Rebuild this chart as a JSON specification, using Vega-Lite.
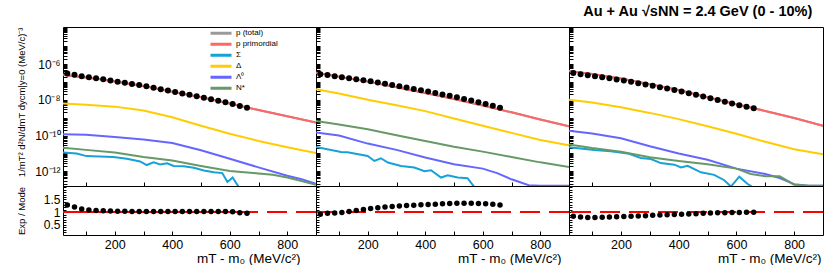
{
"$schema": "https://vega.github.io/schema/vega-lite/v6.json",
"padding": {"left": 15, "top": 4, "right": 0, "bottom": 0},
"background": "white",
"title": {"text": "Au + Au √sNN = 2.4 GeV (0 - 10%)", "anchor": "end", "fontSize": 14.5, "fontWeight": "bold", "font": "Liberation Sans", "color": "black", "offset": 2, "dx": -12},
"config": {
  "view": {"stroke": "black", "strokeWidth": 1},
  "font": "Liberation Sans",
  "axis": {"labelFont": "Liberation Sans", "titleFont": "Liberation Sans", "labelColor": "black", "titleColor": "black", "tickColor": "black", "titleFontWeight": "normal", "grid": false, "domain": false}
},
"datasets": {
"curves": [
{"p":"L","s":"p (total)","x":20,"y":2.51e-7},{"p":"L","s":"p (total)","x":50,"y":2.19e-7},{"p":"L","s":"p (total)","x":100,"y":1.78e-7},{"p":"L","s":"p (total)","x":150,"y":1.41e-7},{"p":"L","s":"p (total)","x":200,"y":1.07e-7},{"p":"L","s":"p (total)","x":300,"y":6.03e-8},{"p":"L","s":"p (total)","x":400,"y":2.88e-8},{"p":"L","s":"p (total)","x":500,"y":1.38e-8},{"p":"L","s":"p (total)","x":600,"y":6.31e-9},{"p":"L","s":"p (total)","x":700,"y":2.69e-9},{"p":"L","s":"p (total)","x":800,"y":1.20e-9},{"p":"L","s":"p (total)","x":900,"y":5.37e-10},
{"p":"L","s":"Σ","x":20,"y":1.12e-11},{"p":"L","s":"Σ","x":67,"y":1.0e-11},{"p":"L","s":"Σ","x":102,"y":7.08e-12},{"p":"L","s":"Σ","x":148,"y":6.76e-12},{"p":"L","s":"Σ","x":195,"y":6.31e-12},{"p":"L","s":"Σ","x":242,"y":5.01e-12},{"p":"L","s":"Σ","x":288,"y":3.55e-12},{"p":"L","s":"Σ","x":311,"y":2.24e-12},{"p":"L","s":"Σ","x":335,"y":3.16e-12},{"p":"L","s":"Σ","x":358,"y":2.40e-12},{"p":"L","s":"Σ","x":382,"y":2.82e-12},{"p":"L","s":"Σ","x":405,"y":2.0e-12},{"p":"L","s":"Σ","x":440,"y":1.91e-12},{"p":"L","s":"Σ","x":475,"y":1.58e-12},{"p":"L","s":"Σ","x":510,"y":1.12e-12},{"p":"L","s":"Σ","x":545,"y":8.91e-13},{"p":"L","s":"Σ","x":574,"y":7.94e-13},{"p":"L","s":"Σ","x":592,"y":2.51e-13},{"p":"L","s":"Σ","x":610,"y":4.47e-13},{"p":"L","s":"Σ","x":633,"y":1.2e-13},
{"p":"L","s":"Δ","x":20,"y":6.31e-9},{"p":"L","s":"Δ","x":100,"y":5.37e-9},{"p":"L","s":"Δ","x":200,"y":4.17e-9},{"p":"L","s":"Δ","x":300,"y":2.51e-9},{"p":"L","s":"Δ","x":400,"y":1.05e-9},{"p":"L","s":"Δ","x":500,"y":3.55e-10},{"p":"L","s":"Δ","x":600,"y":1.26e-10},{"p":"L","s":"Δ","x":700,"y":5.01e-11},{"p":"L","s":"Δ","x":800,"y":2.24e-11},{"p":"L","s":"Δ","x":900,"y":1.05e-11},
{"p":"L","s":"Λ⁰","x":20,"y":1.17e-10},{"p":"L","s":"Λ⁰","x":100,"y":1.10e-10},{"p":"L","s":"Λ⁰","x":200,"y":8.32e-11},{"p":"L","s":"Λ⁰","x":300,"y":6.03e-11},{"p":"L","s":"Λ⁰","x":400,"y":3.80e-11},{"p":"L","s":"Λ⁰","x":500,"y":1.51e-11},{"p":"L","s":"Λ⁰","x":600,"y":5.01e-12},{"p":"L","s":"Λ⁰","x":700,"y":1.66e-12},{"p":"L","s":"Λ⁰","x":800,"y":5.62e-13},{"p":"L","s":"Λ⁰","x":850,"y":3.55e-13},{"p":"L","s":"Λ⁰","x":900,"y":2.0e-13},
{"p":"L","s":"N*","x":20,"y":2.09e-11},{"p":"L","s":"N*","x":100,"y":1.58e-11},{"p":"L","s":"N*","x":200,"y":1.12e-11},{"p":"L","s":"N*","x":300,"y":6.31e-12},{"p":"L","s":"N*","x":400,"y":3.98e-12},{"p":"L","s":"N*","x":500,"y":2.0e-12},{"p":"L","s":"N*","x":600,"y":1.05e-12},{"p":"L","s":"N*","x":700,"y":7.59e-13},{"p":"L","s":"N*","x":750,"y":6.31e-13},{"p":"L","s":"N*","x":800,"y":4.47e-13},{"p":"L","s":"N*","x":850,"y":2.82e-13},{"p":"L","s":"N*","x":900,"y":1.78e-13},
{"p":"L","s":"p primordial","x":20,"y":2.51e-7},{"p":"L","s":"p primordial","x":50,"y":2.19e-7},{"p":"L","s":"p primordial","x":100,"y":1.78e-7},{"p":"L","s":"p primordial","x":150,"y":1.41e-7},{"p":"L","s":"p primordial","x":200,"y":1.07e-7},{"p":"L","s":"p primordial","x":300,"y":6.03e-8},{"p":"L","s":"p primordial","x":400,"y":2.88e-8},{"p":"L","s":"p primordial","x":500,"y":1.38e-8},{"p":"L","s":"p primordial","x":600,"y":6.31e-9},{"p":"L","s":"p primordial","x":700,"y":2.69e-9},{"p":"L","s":"p primordial","x":800,"y":1.20e-9},{"p":"L","s":"p primordial","x":900,"y":5.37e-10},

{"p":"M","s":"p (total)","x":20,"y":3.31e-7},{"p":"M","s":"p (total)","x":100,"y":2.0e-7},{"p":"M","s":"p (total)","x":200,"y":1.05e-7},{"p":"M","s":"p (total)","x":300,"y":5.01e-8},{"p":"M","s":"p (total)","x":400,"y":2.40e-8},{"p":"M","s":"p (total)","x":500,"y":1.12e-8},{"p":"M","s":"p (total)","x":600,"y":4.79e-9},{"p":"M","s":"p (total)","x":700,"y":2.0e-9},{"p":"M","s":"p (total)","x":800,"y":7.94e-10},{"p":"M","s":"p (total)","x":900,"y":3.31e-10},
{"p":"M","s":"Σ","x":20,"y":2.29e-11},{"p":"M","s":"Σ","x":107,"y":1.20e-11},{"p":"M","s":"Σ","x":130,"y":1.17e-11},{"p":"M","s":"Σ","x":153,"y":1.0e-11},{"p":"M","s":"Σ","x":200,"y":7.24e-12},{"p":"M","s":"Σ","x":223,"y":3.80e-12},{"p":"M","s":"Σ","x":246,"y":5.37e-12},{"p":"M","s":"Σ","x":270,"y":3.09e-12},{"p":"M","s":"Σ","x":316,"y":2.0e-12},{"p":"M","s":"Σ","x":362,"y":1.62e-12},{"p":"M","s":"Σ","x":397,"y":1.0e-12},{"p":"M","s":"Σ","x":420,"y":1.15e-12},{"p":"M","s":"Σ","x":455,"y":4.47e-13},{"p":"M","s":"Σ","x":478,"y":6.03e-13},{"p":"M","s":"Σ","x":513,"y":4.47e-13},{"p":"M","s":"Σ","x":547,"y":4.07e-13},{"p":"M","s":"Σ","x":571,"y":1.3e-13},
{"p":"M","s":"Δ","x":20,"y":3.89e-8},{"p":"M","s":"Δ","x":100,"y":2.24e-8},{"p":"M","s":"Δ","x":200,"y":1.0e-8},{"p":"M","s":"Δ","x":300,"y":5.01e-9},{"p":"M","s":"Δ","x":400,"y":2.34e-9},{"p":"M","s":"Δ","x":500,"y":9.12e-10},{"p":"M","s":"Δ","x":600,"y":3.55e-10},{"p":"M","s":"Δ","x":700,"y":1.41e-10},{"p":"M","s":"Δ","x":800,"y":5.62e-11},{"p":"M","s":"Δ","x":900,"y":2.82e-11},
{"p":"M","s":"Λ⁰","x":20,"y":1.48e-10},{"p":"M","s":"Λ⁰","x":100,"y":1.0e-10},{"p":"M","s":"Λ⁰","x":200,"y":3.55e-11},{"p":"M","s":"Λ⁰","x":300,"y":1.58e-11},{"p":"M","s":"Λ⁰","x":400,"y":5.89e-12},{"p":"M","s":"Λ⁰","x":500,"y":2.51e-12},{"p":"M","s":"Λ⁰","x":600,"y":1.41e-12},{"p":"M","s":"Λ⁰","x":650,"y":7.94e-13},{"p":"M","s":"Λ⁰","x":700,"y":3.55e-13},{"p":"M","s":"Λ⁰","x":760,"y":1.66e-13},{"p":"M","s":"Λ⁰","x":800,"y":1.55e-13},{"p":"M","s":"Λ⁰","x":900,"y":1.55e-13},
{"p":"M","s":"N*","x":20,"y":6.61e-10},{"p":"M","s":"N*","x":100,"y":4.17e-10},{"p":"M","s":"N*","x":200,"y":2.24e-10},{"p":"M","s":"N*","x":300,"y":1.05e-10},{"p":"M","s":"N*","x":400,"y":5.01e-11},{"p":"M","s":"N*","x":500,"y":2.34e-11},{"p":"M","s":"N*","x":600,"y":1.26e-11},{"p":"M","s":"N*","x":700,"y":6.31e-12},{"p":"M","s":"N*","x":800,"y":3.16e-12},{"p":"M","s":"N*","x":900,"y":1.74e-12},
{"p":"M","s":"p primordial","x":20,"y":3.31e-7},{"p":"M","s":"p primordial","x":100,"y":2.0e-7},{"p":"M","s":"p primordial","x":200,"y":1.05e-7},{"p":"M","s":"p primordial","x":300,"y":5.01e-8},{"p":"M","s":"p primordial","x":400,"y":2.40e-8},{"p":"M","s":"p primordial","x":500,"y":1.12e-8},{"p":"M","s":"p primordial","x":600,"y":4.79e-9},{"p":"M","s":"p primordial","x":700,"y":2.0e-9},{"p":"M","s":"p primordial","x":800,"y":7.94e-10},{"p":"M","s":"p primordial","x":900,"y":3.31e-10},

{"p":"R","s":"p (total)","x":20,"y":4.17e-7},{"p":"R","s":"p (total)","x":100,"y":2.82e-7},{"p":"R","s":"p (total)","x":200,"y":1.58e-7},{"p":"R","s":"p (total)","x":300,"y":7.59e-8},{"p":"R","s":"p (total)","x":400,"y":3.55e-8},{"p":"R","s":"p (total)","x":500,"y":1.41e-8},{"p":"R","s":"p (total)","x":600,"y":5.62e-9},{"p":"R","s":"p (total)","x":700,"y":2.40e-9},{"p":"R","s":"p (total)","x":800,"y":9.55e-10},{"p":"R","s":"p (total)","x":900,"y":3.55e-10},
{"p":"R","s":"Σ","x":20,"y":2.19e-11},{"p":"R","s":"Σ","x":108,"y":1.55e-11},{"p":"R","s":"Σ","x":165,"y":1.32e-11},{"p":"R","s":"Σ","x":223,"y":1.0e-11},{"p":"R","s":"Σ","x":269,"y":5.50e-12},{"p":"R","s":"Σ","x":304,"y":4.90e-12},{"p":"R","s":"Σ","x":338,"y":2.88e-12},{"p":"R","s":"Σ","x":385,"y":2.34e-12},{"p":"R","s":"Σ","x":408,"y":1.66e-12},{"p":"R","s":"Σ","x":431,"y":2.04e-12},{"p":"R","s":"Σ","x":477,"y":8.71e-13},{"p":"R","s":"Σ","x":523,"y":6.31e-13},{"p":"R","s":"Σ","x":558,"y":3.16e-13},{"p":"R","s":"Σ","x":581,"y":1.4e-13},{"p":"R","s":"Σ","x":610,"y":5.01e-13},{"p":"R","s":"Σ","x":638,"y":2.0e-13},{"p":"R","s":"Σ","x":656,"y":1.3e-13},
{"p":"R","s":"Δ","x":20,"y":1.0e-8},{"p":"R","s":"Δ","x":100,"y":7.08e-9},{"p":"R","s":"Δ","x":200,"y":3.80e-9},{"p":"R","s":"Δ","x":300,"y":1.86e-9},{"p":"R","s":"Δ","x":400,"y":8.32e-10},{"p":"R","s":"Δ","x":500,"y":3.31e-10},{"p":"R","s":"Δ","x":600,"y":1.26e-10},{"p":"R","s":"Δ","x":700,"y":4.47e-11},{"p":"R","s":"Δ","x":800,"y":1.70e-11},{"p":"R","s":"Δ","x":900,"y":8.91e-12},
{"p":"R","s":"Λ⁰","x":20,"y":1.86e-10},{"p":"R","s":"Λ⁰","x":100,"y":1.32e-10},{"p":"R","s":"Λ⁰","x":200,"y":7.08e-11},{"p":"R","s":"Λ⁰","x":300,"y":2.51e-11},{"p":"R","s":"Λ⁰","x":400,"y":1.0e-11},{"p":"R","s":"Λ⁰","x":500,"y":4.47e-12},{"p":"R","s":"Λ⁰","x":600,"y":1.41e-12},{"p":"R","s":"Λ⁰","x":700,"y":7.08e-13},{"p":"R","s":"Λ⁰","x":750,"y":4.17e-13},{"p":"R","s":"Λ⁰","x":800,"y":1.91e-13},{"p":"R","s":"Λ⁰","x":850,"y":1.55e-13},{"p":"R","s":"Λ⁰","x":900,"y":1.55e-13},
{"p":"R","s":"N*","x":20,"y":3.16e-11},{"p":"R","s":"N*","x":100,"y":2.0e-11},{"p":"R","s":"N*","x":200,"y":1.26e-11},{"p":"R","s":"N*","x":300,"y":6.03e-12},{"p":"R","s":"N*","x":400,"y":3.80e-12},{"p":"R","s":"N*","x":500,"y":2.51e-12},{"p":"R","s":"N*","x":600,"y":1.41e-12},{"p":"R","s":"N*","x":650,"y":7.08e-13},{"p":"R","s":"N*","x":700,"y":5.25e-13},{"p":"R","s":"N*","x":750,"y":5.25e-13},{"p":"R","s":"N*","x":800,"y":1.78e-13},{"p":"R","s":"N*","x":850,"y":1.55e-13},{"p":"R","s":"N*","x":900,"y":1.55e-13},
{"p":"R","s":"p primordial","x":20,"y":4.17e-7},{"p":"R","s":"p primordial","x":100,"y":2.82e-7},{"p":"R","s":"p primordial","x":200,"y":1.58e-7},{"p":"R","s":"p primordial","x":300,"y":7.59e-8},{"p":"R","s":"p primordial","x":400,"y":3.55e-8},{"p":"R","s":"p primordial","x":500,"y":1.41e-8},{"p":"R","s":"p primordial","x":600,"y":5.62e-9},{"p":"R","s":"p primordial","x":700,"y":2.40e-9},{"p":"R","s":"p primordial","x":800,"y":9.55e-10},{"p":"R","s":"p primordial","x":900,"y":3.55e-10}
],
"dots": [
{"p":"L","x":35,"v":3.00e-7,"r":1.28},{"p":"L","x":60,"v":2.51e-7,"r":1.2},{"p":"L","x":85,"v":2.13e-7,"r":1.12},{"p":"L","x":110,"v":1.83e-7,"r":1.08},{"p":"L","x":135,"v":1.60e-7,"r":1.06},{"p":"L","x":160,"v":1.42e-7,"r":1.05},{"p":"L","x":185,"v":1.22e-7,"r":1.04},{"p":"L","x":210,"v":1.04e-7,"r":1.03},{"p":"L","x":235,"v":8.97e-8,"r":1.03},{"p":"L","x":260,"v":7.74e-8,"r":1.02},{"p":"L","x":285,"v":6.75e-8,"r":1.02},{"p":"L","x":310,"v":5.74e-8,"r":1.02},{"p":"L","x":335,"v":4.78e-8,"r":1.02},{"p":"L","x":360,"v":3.97e-8,"r":1.02},{"p":"L","x":385,"v":3.30e-8,"r":1.02},{"p":"L","x":410,"v":2.75e-8,"r":1.02},{"p":"L","x":435,"v":2.29e-8,"r":1.02},{"p":"L","x":460,"v":1.90e-8,"r":1.02},{"p":"L","x":485,"v":1.58e-8,"r":1.02},{"p":"L","x":510,"v":1.32e-8,"r":1.02},{"p":"L","x":535,"v":1.07e-8,"r":1.02},{"p":"L","x":560,"v":8.89e-9,"r":1.02},{"p":"L","x":585,"v":7.23e-9,"r":1.02},{"p":"L","x":610,"v":5.81e-9,"r":1.01},{"p":"L","x":635,"v":4.54e-9,"r":0.97},{"p":"L","x":660,"v":3.61e-9,"r":0.95},
{"p":"M","x":35,"v":2.74e-7,"r":0.91},{"p":"M","x":60,"v":2.44e-7,"r":0.95},{"p":"M","x":85,"v":2.10e-7,"r":0.96},{"p":"M","x":110,"v":1.83e-7,"r":0.98},{"p":"M","x":135,"v":1.63e-7,"r":1.02},{"p":"M","x":160,"v":1.44e-7,"r":1.06},{"p":"M","x":185,"v":1.27e-7,"r":1.1},{"p":"M","x":210,"v":1.11e-7,"r":1.14},{"p":"M","x":235,"v":9.46e-8,"r":1.17},{"p":"M","x":260,"v":8.07e-8,"r":1.2},{"p":"M","x":285,"v":6.82e-8,"r":1.22},{"p":"M","x":310,"v":5.77e-8,"r":1.24},{"p":"M","x":335,"v":4.88e-8,"r":1.26},{"p":"M","x":360,"v":4.09e-8,"r":1.27},{"p":"M","x":385,"v":3.46e-8,"r":1.29},{"p":"M","x":410,"v":2.89e-8,"r":1.3},{"p":"M","x":435,"v":2.40e-8,"r":1.31},{"p":"M","x":460,"v":2.02e-8,"r":1.33},{"p":"M","x":485,"v":1.69e-8,"r":1.34},{"p":"M","x":510,"v":1.39e-8,"r":1.35},{"p":"M","x":535,"v":1.12e-8,"r":1.35},{"p":"M","x":560,"v":9.08e-9,"r":1.35},{"p":"M","x":585,"v":7.29e-9,"r":1.34},{"p":"M","x":610,"v":5.83e-9,"r":1.33},{"p":"M","x":635,"v":4.61e-9,"r":1.31},{"p":"M","x":660,"v":3.62e-9,"r":1.28},
{"p":"R","x":35,"v":3.21e-7,"r":0.83},{"p":"R","x":60,"v":2.74e-7,"r":0.80},{"p":"R","x":85,"v":2.37e-7,"r":0.78},{"p":"R","x":110,"v":2.07e-7,"r":0.78},{"p":"R","x":135,"v":1.82e-7,"r":0.79},{"p":"R","x":160,"v":1.60e-7,"r":0.80},{"p":"R","x":185,"v":1.40e-7,"r":0.81},{"p":"R","x":210,"v":1.21e-7,"r":0.82},{"p":"R","x":235,"v":1.02e-7,"r":0.83},{"p":"R","x":260,"v":8.55e-8,"r":0.84},{"p":"R","x":285,"v":7.19e-8,"r":0.85},{"p":"R","x":310,"v":6.12e-8,"r":0.87},{"p":"R","x":335,"v":5.11e-8,"r":0.88},{"p":"R","x":360,"v":4.28e-8,"r":0.89},{"p":"R","x":385,"v":3.58e-8,"r":0.9},{"p":"R","x":410,"v":2.94e-8,"r":0.91},{"p":"R","x":435,"v":2.37e-8,"r":0.92},{"p":"R","x":460,"v":1.90e-8,"r":0.93},{"p":"R","x":485,"v":1.54e-8,"r":0.95},{"p":"R","x":510,"v":1.24e-8,"r":0.96},{"p":"R","x":535,"v":9.93e-9,"r":0.97},{"p":"R","x":560,"v":7.89e-9,"r":0.97},{"p":"R","x":585,"v":6.32e-9,"r":0.98},{"p":"R","x":610,"v":5.06e-9,"r":0.98},{"p":"R","x":635,"v":4.13e-9,"r":0.99},{"p":"R","x":660,"v":3.34e-9,"r":0.99}
]
},
"columns": 3,
"spacing": 0,
"bounds": "flush",
"align": "each",
"resolve": {"scale": {"x": "independent", "y": "independent", "color": "independent"}},
"concat": [
{
"width": 253, "height": 159,
"layer": [
{"data": {"name": "curves"}, "transform": [{"filter": "datum.p == 'L'"}],
 "mark": {"type": "line", "strokeWidth": 2, "clip": true},
 "encoding": {
  "x": {"field": "x", "type": "quantitative", "scale": {"domain": [20, 900], "nice": false, "zero": false},
        "axis": {"labels": false, "title": null, "values": [100,200,300,400,500,600,700,800], "tickSize": -4, "minExtent": 0, "maxExtent": 0}},
  "y": {"field": "y", "type": "quantitative", "scale": {"type": "log", "domain": [1.5e-13, 1.2e-4], "nice": false},
        "axis": {"title": "1/mT² d²N/dmT dycm|y=0 (MeV/c)⁻³", "titleFontSize": 9.5, "titlePadding": 6, "titleAnchor": "end",
                 "tickCount": 100, "tickSize": -4, "labelPadding": 7, "labelFontSize": 12, "labelOverlap": false, "minExtent": 31, "maxExtent": 31,
                 "labelExpr": "abs(datum.value/1e-6-1)<1e-4 ? '10⁻⁶' : abs(datum.value/1e-8-1)<1e-4 ? '10⁻⁸' : abs(datum.value/1e-10-1)<1e-4 ? '10⁻¹⁰' : abs(datum.value/1e-12-1)<1e-4 ? '10⁻¹²' : ''"}},
  "color": {"field": "s", "type": "nominal",
            "scale": {"domain": ["p (total)", "p primordial", "Σ", "Δ", "Λ⁰", "N*"], "range": ["#9a9a9a", "#ff6666", "#16a2d6", "#ffcc00", "#6666ff", "#669966"]},
            "legend": {"orient": "none", "legendX": 146, "legendY": 1, "title": null, "symbolType": "stroke", "symbolStrokeWidth": 3, "symbolSize": 441, "labelFontSize": 8, "labelFont": "Liberation Sans", "labelColor": "black", "clipHeight": 10.3, "rowPadding": 0, "labelOffset": 3, "padding": 0}}
 }},
{"data": {"name": "dots"}, "transform": [{"filter": "datum.p == 'L'"}],
 "mark": {"type": "circle", "size": 36, "color": "black", "opacity": 1, "clip": true},
 "encoding": {"x": {"field": "x", "type": "quantitative"}, "y": {"field": "v", "type": "quantitative"}}}
]
},
{
"width": 253, "height": 159,
"layer": [
{"data": {"name": "curves"}, "transform": [{"filter": "datum.p == 'M'"}],
 "mark": {"type": "line", "strokeWidth": 2, "clip": true},
 "encoding": {
  "x": {"field": "x", "type": "quantitative", "scale": {"domain": [20, 900], "nice": false, "zero": false},
        "axis": {"labels": false, "title": null, "values": [100,200,300,400,500,600,700,800], "tickSize": -4, "minExtent": 0, "maxExtent": 0}},
  "y": {"field": "y", "type": "quantitative", "scale": {"type": "log", "domain": [1.5e-13, 1.2e-4], "nice": false},
        "axis": {"title": null, "labels": false, "tickCount": 100, "tickSize": -4, "minExtent": 0, "maxExtent": 0}},
  "color": {"field": "s", "type": "nominal",
            "scale": {"domain": ["p (total)", "p primordial", "Σ", "Δ", "Λ⁰", "N*"], "range": ["#9a9a9a", "#ff6666", "#16a2d6", "#ffcc00", "#6666ff", "#669966"]},
            "legend": null}
 }},
{"data": {"name": "dots"}, "transform": [{"filter": "datum.p == 'M'"}],
 "mark": {"type": "circle", "size": 36, "color": "black", "opacity": 1, "clip": true},
 "encoding": {"x": {"field": "x", "type": "quantitative"}, "y": {"field": "v", "type": "quantitative"}}}
]
},
{
"width": 254, "height": 159,
"layer": [
{"data": {"name": "curves"}, "transform": [{"filter": "datum.p == 'R'"}],
 "mark": {"type": "line", "strokeWidth": 2, "clip": true},
 "encoding": {
  "x": {"field": "x", "type": "quantitative", "scale": {"domain": [20, 900], "nice": false, "zero": false},
        "axis": {"labels": false, "title": null, "values": [100,200,300,400,500,600,700,800], "tickSize": -4, "minExtent": 0, "maxExtent": 0}},
  "y": {"field": "y", "type": "quantitative", "scale": {"type": "log", "domain": [1.5e-13, 1.2e-4], "nice": false},
        "axis": {"title": null, "labels": false, "tickCount": 100, "tickSize": -4, "minExtent": 0, "maxExtent": 0}},
  "color": {"field": "s", "type": "nominal",
            "scale": {"domain": ["p (total)", "p primordial", "Σ", "Δ", "Λ⁰", "N*"], "range": ["#9a9a9a", "#ff6666", "#16a2d6", "#ffcc00", "#6666ff", "#669966"]},
            "legend": null}
 }},
{"data": {"name": "dots"}, "transform": [{"filter": "datum.p == 'R'"}],
 "mark": {"type": "circle", "size": 36, "color": "black", "opacity": 1, "clip": true},
 "encoding": {"x": {"field": "x", "type": "quantitative"}, "y": {"field": "v", "type": "quantitative"}}}
]
},
{
"width": 253, "height": 49,
"data": {"name": "dots"},
"transform": [{"filter": "datum.p == 'L'"}],
"encoding": {
  "x": {"field": "x", "type": "quantitative", "scale": {"domain": [20, 900], "nice": false, "zero": false},
        "axis": {"values": [100,200,300,400,500,600,700,800], "labelExpr": "datum.value % 200 == 0 ? datum.label : ''", "labelFontSize": 12.5, "tickSize": -4, "labelPadding": 7, "labelFlush": false, "labelOverlap": false,
                 "title": "mT - m₀ (MeV/c²)", "titleAnchor": "end", "titleX": 237, "titleAlign": "right", "titleFontSize": 13.5, "titlePadding": 1}},
  "y": {"field": "r", "type": "quantitative", "scale": {"domain": [0.08, 2.04], "nice": false, "zero": false},
        "axis": {"title": "Exp / Mode", "titleFontSize": 9.5, "titlePadding": 6, "values": [0.2,0.3,0.4,0.5,0.6,0.7,0.8,0.9,1,1.1,1.2,1.3,1.4,1.5,1.6,1.7,1.8,1.9,2], "labelExpr": "datum.value == 0.5 ? '0.5' : datum.value == 1 ? '1' : datum.value == 1.5 ? '1.5' : ''",
                 "tickSize": -3, "labelPadding": 6, "labelFontSize": 12, "labelOverlap": false, "minExtent": 31, "maxExtent": 31}}
},
"layer": [
 {"mark": {"type": "rule", "color": "#ff0000", "strokeWidth": 1.5, "strokeDash": [20, 9]}, "encoding": {"x": null, "y": {"datum": 1}}},
 {"mark": {"type": "rule", "color": "#ff0000", "strokeWidth": 1.5}, "encoding": {"x": {"datum": 20}, "x2": {"datum": 672}, "y": {"datum": 1}}},
 {"mark": {"type": "circle", "size": 30, "color": "black", "opacity": 1, "clip": true}}
]
},
{
"width": 253, "height": 49,
"data": {"name": "dots"},
"transform": [{"filter": "datum.p == 'M'"}],
"encoding": {
  "x": {"field": "x", "type": "quantitative", "scale": {"domain": [20, 900], "nice": false, "zero": false},
        "axis": {"values": [100,200,300,400,500,600,700,800], "labelExpr": "datum.value % 200 == 0 ? datum.label : ''", "labelFontSize": 12.5, "tickSize": -4, "labelPadding": 7, "labelFlush": false, "labelOverlap": false,
                 "title": "mT - m₀ (MeV/c²)", "titleAnchor": "end", "titleX": 245, "titleAlign": "right", "titleFontSize": 13.5, "titlePadding": 1}},
  "y": {"field": "r", "type": "quantitative", "scale": {"domain": [0.08, 2.04], "nice": false, "zero": false},
        "axis": {"title": null, "labels": false, "values": [0.2,0.3,0.4,0.5,0.6,0.7,0.8,0.9,1,1.1,1.2,1.3,1.4,1.5,1.6,1.7,1.8,1.9,2], "tickSize": -3, "minExtent": 0, "maxExtent": 0}}
},
"layer": [
 {"mark": {"type": "rule", "color": "#ff0000", "strokeWidth": 1.5, "strokeDash": [20, 9]}, "encoding": {"x": null, "y": {"datum": 1}}},
 {"mark": {"type": "circle", "size": 30, "color": "black", "opacity": 1, "clip": true}}
]
},
{
"width": 254, "height": 49,
"data": {"name": "dots"},
"transform": [{"filter": "datum.p == 'R'"}],
"encoding": {
  "x": {"field": "x", "type": "quantitative", "scale": {"domain": [20, 900], "nice": false, "zero": false},
        "axis": {"values": [100,200,300,400,500,600,700,800], "labelExpr": "datum.value % 200 == 0 ? datum.label : ''", "labelFontSize": 12.5, "tickSize": -4, "labelPadding": 7, "labelFlush": false, "labelOverlap": false,
                 "title": "mT - m₀ (MeV/c²)", "titleAnchor": "end", "titleX": 252, "titleAlign": "right", "titleFontSize": 13.5, "titlePadding": 1}},
  "y": {"field": "r", "type": "quantitative", "scale": {"domain": [0.08, 2.04], "nice": false, "zero": false},
        "axis": {"title": null, "labels": false, "values": [0.2,0.3,0.4,0.5,0.6,0.7,0.8,0.9,1,1.1,1.2,1.3,1.4,1.5,1.6,1.7,1.8,1.9,2], "tickSize": -3, "minExtent": 0, "maxExtent": 0}}
},
"layer": [
 {"mark": {"type": "rule", "color": "#ff0000", "strokeWidth": 1.5, "strokeDash": [20, 9]}, "encoding": {"x": null, "y": {"datum": 1}}},
 {"mark": {"type": "circle", "size": 30, "color": "black", "opacity": 1, "clip": true}}
]
}
]
}
